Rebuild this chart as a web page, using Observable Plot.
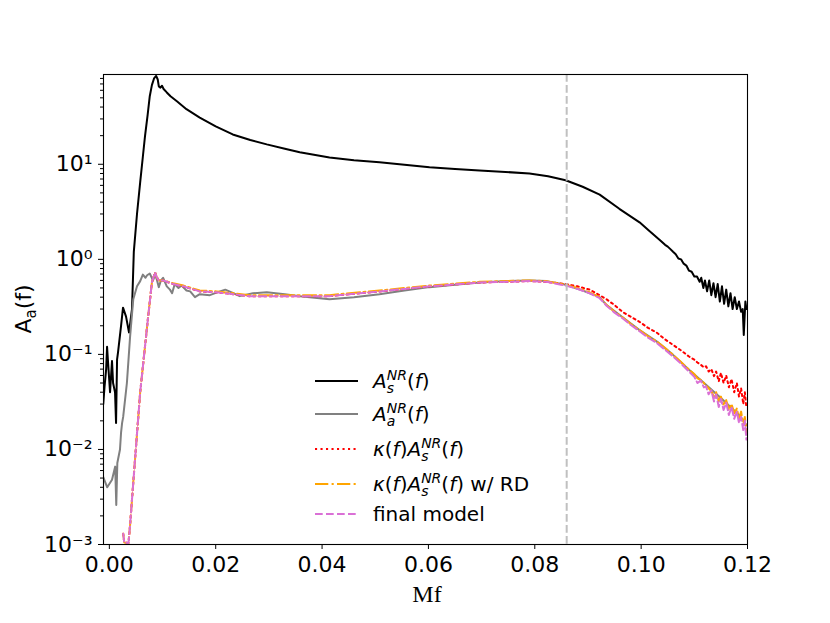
<!DOCTYPE html>
<html>
<head>
<meta charset="utf-8">
<script src="https://cdn.jsdelivr.net/npm/d3@7"></script>
<script src="https://cdn.jsdelivr.net/npm/@observablehq/plot@0.6"></script>
<style>
  html, body { margin: 0; padding: 0; background: #fff; }
  svg { display: block; }
</style>
</head>
<body>
<script>
// ---------- data ----------
// A_s^NR(f)  (black)
const fS = [-0.00115,-0.0009,-0.0006,-0.00043,-0.00024,0.00013,0.0005,0.0007,0.00107,0.00126,0.00145,0.00163,0.0022,0.00257,0.00314,0.0037,0.00426,0.0046,0.0052,0.0058,0.0063,0.0067,0.0072,0.0076,0.0080,0.0084,0.0088,0.0091,0.0093,0.0096,0.0099,0.0102,0.0108,0.0115,0.0127,0.0145,0.017,0.020,0.0232,0.0265,0.0296,0.033,0.0358,0.0414,0.046,0.0508,0.0555,0.0602,0.065,0.0696,0.0745,0.079,0.0825,0.0858,0.089,0.0922,0.0959,0.0997,0.1015,0.1035,0.1045,0.105,0.1055,0.106,0.1065,0.107,0.1075,0.108,0.1085,0.109,0.1095,0.11,0.1105,0.111,0.1113,0.1117,0.112,0.1124,0.1128,0.1132,0.1136,0.114,0.1144,0.1148,0.1152,0.1156,0.116,0.1164,0.1168,0.1172,0.1176,0.118,0.1184,0.1188,0.1191,0.1193,0.1196,0.1198];
const aS = [0.03,0.046,0.07,0.12,0.082,0.04,0.085,0.05,0.04,0.019,0.088,0.105,0.2,0.31,0.25,0.17,0.3,1.2,3.0,6.5,12,19.7,33,52,68,80,85,78,66,64,67,62,57,52,46,38,31,25,20.6,18,16.2,14.6,13.4,11.8,11.0,10.5,9.9,9.3,8.9,8.6,8.3,8.0,7.5,6.8,5.8,4.8,3.4,2.45,2.0,1.6,1.42,1.36,1.28,1.2,1.13,1.02,1.0,0.9,0.86,0.76,0.74,0.66,0.66,0.58,0.64,0.5,0.6,0.46,0.6,0.42,0.56,0.4,0.55,0.36,0.52,0.34,0.48,0.32,0.44,0.3,0.4,0.3,0.36,0.28,0.3,0.16,0.36,0.3];

// A_a^NR(f)  (gray)
const fA = [-0.0012,-0.0004,0.0005,0.0011,0.0013,0.0015,0.002,0.0022,0.0024,0.0026,0.0033,0.0039,0.0045,0.0052,0.0058,0.0063,0.0068,0.0071,0.0076,0.0082,0.0086,0.0089,0.0093,0.0097,0.0101,0.0108,0.0114,0.0118,0.0123,0.0130,0.0136,0.0145,0.0152,0.0161,0.017,0.0189,0.0208,0.0218,0.023,0.0245,0.027,0.0296,0.033,0.0358,0.0414,0.046,0.0508,0.0555,0.0602,0.065,0.0696,0.075,0.079,0.0822,0.0858,0.089,0.0922,0.0935,0.0972,0.0997,0.1029,0.1059,0.109,0.1122,0.1152,0.1184,0.1198];
const aA = [0.0052,0.004,0.0048,0.0066,0.0026,0.0072,0.01,0.015,0.019,0.022,0.05,0.154,0.38,0.52,0.59,0.69,0.64,0.68,0.71,0.6,0.68,0.62,0.51,0.6,0.64,0.52,0.48,0.44,0.55,0.5,0.53,0.47,0.46,0.40,0.43,0.42,0.46,0.48,0.45,0.41,0.44,0.45,0.43,0.41,0.38,0.40,0.43,0.47,0.51,0.54,0.57,0.59,0.6,0.59,0.54,0.47,0.40,0.33,0.23,0.18,0.137,0.1,0.069,0.048,0.034,0.023,0.018];

// model, common part (before the ringdown)
const fModel = [0.0026,0.0028,0.0036,0.0039,0.0045,0.0058,0.0071,0.0080,0.0086,0.0089,0.0093,0.0101,0.012,0.0139,0.017,0.0202,0.0264,0.0358,0.0414,0.0508,0.0602,0.0696,0.079,0.0822];
const aModel = [0.0013,0.00105,0.00104,0.0016,0.0045,0.04,0.197,0.57,0.73,0.65,0.6,0.6,0.55,0.52,0.46,0.45,0.41,0.41,0.41,0.46,0.52,0.57,0.59,0.58];
const aModelRD = [0.0013,0.00105,0.00104,0.0016,0.0045,0.04,0.197,0.57,0.73,0.65,0.6,0.6,0.56,0.53,0.47,0.46,0.42,0.42,0.42,0.47,0.53,0.58,0.60,0.59];

// tails after f = 0.0858
const fTail = [0.0858,0.0880,0.0903,0.0922,0.0935,0.0950,0.0965,0.0980,0.0997,0.1013,0.1029,0.1044,0.1059,0.1075,0.109,0.1100,0.1106,0.1112,0.1118,0.1122,0.1127,0.1132,0.1137,0.1141,0.1146,0.1150,0.1155,0.1160,0.1165,0.1170,0.1175,0.1180,0.1184,0.1188,0.1192,0.1195,0.1198];
const aKappa = [0.55,0.52,0.48,0.42,0.38,0.33,0.28,0.25,0.22,0.19,0.17,0.145,0.127,0.11,0.095,0.088,0.082,0.078,0.073,0.075,0.066,0.07,0.059,0.066,0.052,0.064,0.05,0.06,0.045,0.055,0.04,0.05,0.036,0.044,0.03,0.04,0.027];
const aKappaRD = [0.54,0.5,0.45,0.40,0.33,0.28,0.245,0.21,0.18,0.155,0.137,0.118,0.1,0.083,0.069,0.062,0.056,0.054,0.05,0.047,0.044,0.041,0.036,0.04,0.032,0.036,0.029,0.033,0.026,0.03,0.024,0.027,0.021,0.025,0.018,0.022,0.015];
const aFinal = [0.53,0.49,0.44,0.39,0.325,0.275,0.24,0.205,0.175,0.15,0.132,0.113,0.096,0.08,0.066,0.058,0.05,0.053,0.045,0.046,0.038,0.042,0.032,0.038,0.028,0.034,0.026,0.031,0.023,0.028,0.021,0.025,0.019,0.022,0.016,0.02,0.0127];

const fRD = [0.086];
const xTicks = [0, 0.02, 0.04, 0.06, 0.08, 0.10, 0.12];
const yTicks = [1e-3, 1e-2, 1e-1, 1, 10];
const yTickLabels = ["10\u207B\u00B3", "10\u207B\u00B2", "10\u207B\u00B9", "10\u2070", "10\u00B9"];

const legendLabels = ["A_s^NR(f)", "A_a^NR(f)", "κ(f)A_s^NR(f)", "κ(f)A_s^NR(f) w/ RD", "final model"];

// ---------- tables ----------
const zip = (fs, as) => fs.map((f, i) => ({f, a: as[i]}));
const dS = zip(fS, aS);
const dA = zip(fA, aA);
const dKappa = zip(fModel.concat(fTail), aModel.concat(aKappa));
const dKappaRD = zip(fModel.concat(fTail), aModelRD.concat(aKappaRD));
const dFinal = zip(fModel.concat(fTail), aModel.concat(aFinal));

const minorTicks = [];
for (let e = -3; e <= 1; e++) for (let m = 2; m <= 9; m++) { const v = m * Math.pow(10, e); if (v < 88) minorTicks.push(v); }

const DOT = "2.1,3.4", DASH = "7.7,3.3", DASHDOT = "13.3,3.3,2.1,3.3";

const svg = Plot.plot({
  width: 830,
  height: 623,
  marginLeft: 103,
  marginRight: 83,
  marginTop: 74,
  marginBottom: 79,
  style: {fontFamily: "DejaVu Sans", fontSize: "22px", background: "#fff", color: "#000"},
  x: {domain: [-0.0011, 0.12]},
  y: {type: "log", domain: [1e-3, 88]},
  marks: [
    Plot.line(dS, {x: "f", y: "a", stroke: "#000", strokeWidth: 2, clip: true}),
    Plot.line(dA, {x: "f", y: "a", stroke: "#808080", strokeWidth: 2, clip: true}),
    Plot.line(dKappa, {x: "f", y: "a", stroke: "red", strokeWidth: 2, strokeDasharray: DOT, clip: true}),
    Plot.line(dKappaRD, {x: "f", y: "a", stroke: "orange", strokeWidth: 2, strokeDasharray: DASHDOT, clip: true}),
    Plot.line(dFinal, {x: "f", y: "a", stroke: "orchid", strokeWidth: 2, strokeDasharray: DASH, clip: true}),
    Plot.ruleX(fRD, {stroke: "#c0c0c0", strokeWidth: 2, strokeDasharray: DASH}),
    Plot.frame({stroke: "#000", strokeWidth: 1.1}),
    Plot.axisX({ticks: xTicks, tickFormat: d3.format(".2f"), tickSize: 5, tickPadding: 7, fontSize: 22, label: null}),
    Plot.axisY({ticks: yTicks, tickFormat: d => yTickLabels[yTicks.indexOf(d)], tickSize: 5, tickPadding: 6, fontSize: 22, label: null}),
    Plot.axisY({ticks: minorTicks, tickFormat: () => "", tickSize: 3, label: null})
  ]
});
document.body.appendChild(svg);

// ---------- axis titles & legend ----------
const s = d3.select(svg);
// x label
s.append("text").attr("x", 427).attr("y", 602).attr("text-anchor", "middle")
  .attr("font-family", "Liberation Serif").attr("font-size", 24).attr("fill", "#000").text("Mf");
// y label
const yl = s.append("text").attr("transform", "translate(31,309) rotate(-90)").attr("text-anchor", "middle")
  .attr("font-family", "DejaVu Sans").attr("font-size", 22).attr("fill", "#000");
yl.append("tspan").text("A");
yl.append("tspan").attr("font-size", 15).attr("dy", 5).text("a");
yl.append("tspan").attr("dy", -5).text("(f)");

const legend = s.append("g").attr("font-family", "DejaVu Sans").attr("font-size", 20)
  .attr("fill", "#000").attr("text-anchor", "start");
const rows = [381, 414, 449, 484, 514];
const styles = [
  {stroke: "#000", dash: null},
  {stroke: "#808080", dash: null},
  {stroke: "red", dash: DOT},
  {stroke: "orange", dash: DASHDOT},
  {stroke: "orchid", dash: DASH}
];
rows.forEach((y, i) => {
  const l = legend.append("line").attr("x1", 315).attr("x2", 358).attr("y1", y).attr("y2", y)
    .attr("stroke", styles[i].stroke).attr("stroke-width", 2);
  if (styles[i].dash) l.attr("stroke-dasharray", styles[i].dash);
});
function amp(t, sub, subW, prefix, suffix) {
  if (prefix) {
    t.append("tspan").attr("font-style", "italic").text("κ");
    t.append("tspan").text("(");
    t.append("tspan").attr("font-style", "italic").text("f");
    t.append("tspan").text(")");
  }
  t.append("tspan").attr("font-style", "italic").text("A");
  t.append("tspan").attr("font-style", "italic").attr("font-size", 14).attr("dy", 5).text(sub);
  t.append("tspan").attr("font-style", "italic").attr("font-size", 14).attr("dx", -subW).attr("dy", -13).text("NR");
  t.append("tspan").attr("dy", 8).text("(");
  t.append("tspan").attr("font-style", "italic").text("f");
  t.append("tspan").text(")" + (suffix || ""));
}
const tx = 373;
amp(legend.append("text").attr("x", tx).attr("y", rows[0] + 7), "s", 7.3, false);
amp(legend.append("text").attr("x", tx).attr("y", rows[1] + 7), "a", 8.6, false);
amp(legend.append("text").attr("x", tx).attr("y", rows[2] + 7), "s", 7.3, true);
amp(legend.append("text").attr("x", tx).attr("y", rows[3] + 7), "s", 7.3, true, " w/ RD");
legend.append("text").attr("x", tx).attr("y", rows[4] + 7).text(legendLabels[4]);
</script>
</body>
</html>
